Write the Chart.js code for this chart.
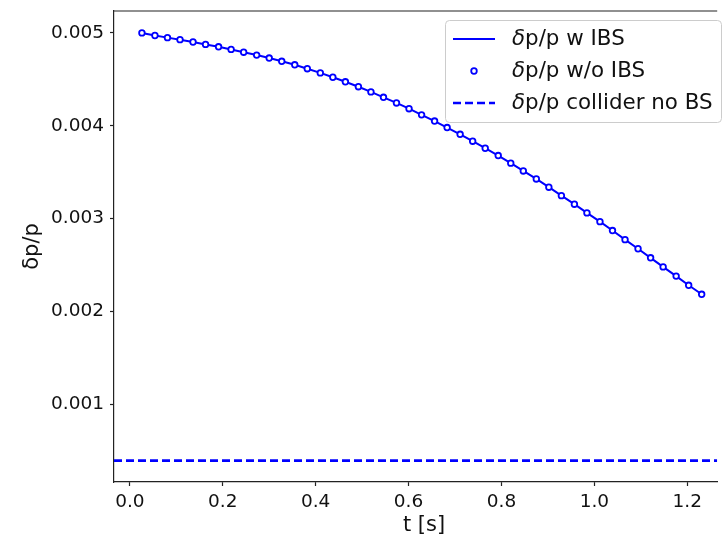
<!DOCTYPE html>
<html>
<head>
<meta charset="utf-8">
<script src="https://cdn.jsdelivr.net/npm/chart.js@4/dist/chart.umd.min.js"></script>
<style>
  html, body { margin: 0; padding: 0; background: #fff; overflow: hidden; }
  #wrap { width: 723px; height: 540px; }
</style>
</head>
<body>
<div id="wrap"><canvas id="dpChart" width="723" height="540"></canvas></div>
<script>
// time axis [s]
var tSeconds = [0.026, 0.054, 0.081, 0.108, 0.136, 0.163, 0.191, 0.218, 0.245, 0.273,
  0.300, 0.327, 0.355, 0.382, 0.410, 0.437, 0.464, 0.492, 0.519, 0.546,
  0.574, 0.601, 0.628, 0.656, 0.683, 0.711, 0.738, 0.765, 0.793, 0.820,
  0.847, 0.875, 0.902, 0.929, 0.957, 0.984, 1.012, 1.039, 1.066, 1.094,
  1.121, 1.148, 1.176, 1.203, 1.231];

// momentum spread with IBS
var dpWithIBS = [0.005000, 0.004972, 0.004949, 0.004927, 0.004902, 0.004876, 0.004850, 0.004822, 0.004792, 0.004761,
  0.004729, 0.004694, 0.004656, 0.004614, 0.004569, 0.004522, 0.004473, 0.004420, 0.004364, 0.004306,
  0.004245, 0.004183, 0.004117, 0.004050, 0.003980, 0.003907, 0.003833, 0.003757, 0.003678, 0.003596,
  0.003512, 0.003426, 0.003337, 0.003246, 0.003154, 0.003060, 0.002966, 0.002870, 0.002772, 0.002674,
  0.002576, 0.002478, 0.002379, 0.002280, 0.002183];

// momentum spread without IBS (same curve, drawn as open markers)
var dpWithoutIBS = [0.005000, 0.004972, 0.004949, 0.004927, 0.004902, 0.004876, 0.004850, 0.004822, 0.004792, 0.004761,
  0.004729, 0.004694, 0.004656, 0.004614, 0.004569, 0.004522, 0.004473, 0.004420, 0.004364, 0.004306,
  0.004245, 0.004183, 0.004117, 0.004050, 0.003980, 0.003907, 0.003833, 0.003757, 0.003678, 0.003596,
  0.003512, 0.003426, 0.003337, 0.003246, 0.003154, 0.003060, 0.002966, 0.002870, 0.002772, 0.002674,
  0.002576, 0.002478, 0.002379, 0.002280, 0.002183];

// collider value, no beamstrahlung
var colliderNoBS = 0.00039;

var seriesLabels = ['\u03b4p/p w IBS', '\u03b4p/p w/o IBS', '\u03b4p/p collider no BS'];

var xMin = -0.0341, xMax = 1.2644;
var yMin = 0.00016, yMax = 0.005236;

var blue = '#0000ff';
var tickFont = { family: 'DejaVu Sans', size: 18.5 };
var axisColor = '#222222';

function toPoints(xs, ys) {
  var pts = [];
  xs.forEach(function (x, i) { pts.push({ x: x, y: ys[i] }); });
  return pts;
}

// top frame, axis titles and a matplotlib-like legend
var framePlugin = {
  id: 'frame',
  afterDraw: function (chart) {
    var ctx = chart.ctx;
    var area = chart.chartArea;
    ctx.save();
    ctx.strokeStyle = axisColor;
    ctx.lineWidth = 1.2;
    ctx.beginPath();
    ctx.moveTo(area.left - 0.6, area.top);
    ctx.lineTo(area.right, area.top);
    ctx.stroke();

    // axis titles
    ctx.fillStyle = '#111';
    ctx.font = '21px "DejaVu Sans"';
    ctx.textAlign = 'center';
    ctx.textBaseline = 'middle';
    ctx.fillText('t [s]', 424, 526);
    ctx.save();
    ctx.translate(33, (area.top + area.bottom) / 2);
    ctx.rotate(-Math.PI / 2);
    ctx.fillText('\u03b4p/p', 0, 0);
    ctx.restore();

    // legend box
    var lx = 445.5, ly = 20.5, lw = 276, lh = 102;
    ctx.beginPath();
    ctx.roundRect(lx, ly, lw, lh, 4);
    ctx.fillStyle = 'rgba(255,255,255,0.8)';
    ctx.fill();
    ctx.strokeStyle = '#cccccc';
    ctx.lineWidth = 1;
    ctx.stroke();

    var rows = [39, 71, 103];
    var hx0 = 453, hx1 = 495, tx = 512;
    // row 1: solid line
    ctx.strokeStyle = blue;
    ctx.lineWidth = 2;
    ctx.beginPath();
    ctx.moveTo(hx0, rows[0]);
    ctx.lineTo(hx1, rows[0]);
    ctx.stroke();
    // row 2: open marker
    ctx.lineWidth = 1.8;
    ctx.beginPath();
    ctx.arc((hx0 + hx1) / 2, rows[1], 2.8, 0, Math.PI * 2);
    ctx.fillStyle = '#fff';
    ctx.fill();
    ctx.stroke();
    // row 3: dashed
    ctx.lineWidth = 2.6;
    ctx.setLineDash([8, 4]);
    ctx.beginPath();
    ctx.moveTo(hx0, rows[2]);
    ctx.lineTo(hx1, rows[2]);
    ctx.stroke();
    ctx.setLineDash([]);

    ctx.fillStyle = '#111';
    ctx.textAlign = 'left';
    ctx.textBaseline = 'middle';
    seriesLabels.forEach(function (lab, i) {
      ctx.font = 'italic 21.4px "DejaVu Sans"';
      ctx.fillText(lab.charAt(0), tx, rows[i]);
      var w = ctx.measureText(lab.charAt(0)).width;
      ctx.font = '21.4px "DejaVu Sans"';
      ctx.fillText(lab.slice(1), tx + w, rows[i]);
    });
    ctx.restore();
  }
};

var ctx = document.getElementById('dpChart').getContext('2d');
var myChart = new Chart(ctx, {
  type: 'scatter',
  data: {
    datasets: [{
      label: seriesLabels[0],
      data: toPoints(tSeconds, dpWithIBS),
      showLine: true,
      borderColor: blue,
      borderWidth: 2,
      pointRadius: 0,
      order: 1
    }, {
      label: seriesLabels[1],
      data: toPoints(tSeconds, dpWithoutIBS),
      showLine: false,
      borderColor: blue,
      backgroundColor: '#ffffff',
      pointRadius: 2.8,
      pointBorderWidth: 1.8,
      order: 0
    }, {
      label: seriesLabels[2],
      data: [{ x: xMin, y: colliderNoBS }, { x: xMax, y: colliderNoBS }],
      showLine: true,
      borderColor: blue,
      borderWidth: 2.6,
      borderDash: [8, 4],
      pointRadius: 0,
      order: 2
    }]
  },
  options: {
    responsive: false,
    animation: false,
    layout: { padding: { top: 11, right: 0, left: 0, bottom: 0 } },
    plugins: { legend: { display: false }, tooltip: { enabled: false } },
    scales: {
      x: {
        type: 'linear',
        min: xMin,
        max: xMax,
        afterFit: function (scale) {
          scale.height = 58;
          scale.paddingLeft = 0;
          scale.paddingRight = 0;
        },
        grid: { drawOnChartArea: false, tickLength: 4, color: axisColor, tickWidth: 1.2 },
        border: { color: axisColor, width: 1.2 },
        ticks: {
          stepSize: 0.2,
          includeBounds: false,
          padding: 5,
          color: '#111',
          font: tickFont,
          maxRotation: 0,
          callback: function (v) { return Number(v).toFixed(1); }
        }
      },
      y: {
        type: 'linear',
        min: yMin,
        max: yMax,
        afterFit: function (scale) {
          scale.width = 114;
          scale.paddingTop = 0;
          scale.paddingBottom = 0;
        },
        grid: { drawOnChartArea: false, tickLength: 4, color: axisColor, tickWidth: 1.2 },
        border: { color: axisColor, width: 1.2 },
        ticks: {
          stepSize: 0.001,
          includeBounds: false,
          padding: 6,
          color: '#111',
          font: tickFont,
          callback: function (v) { return Number(v).toFixed(3); }
        }
      }
    }
  },
  plugins: [framePlugin]
});
</script>
</body>
</html>
